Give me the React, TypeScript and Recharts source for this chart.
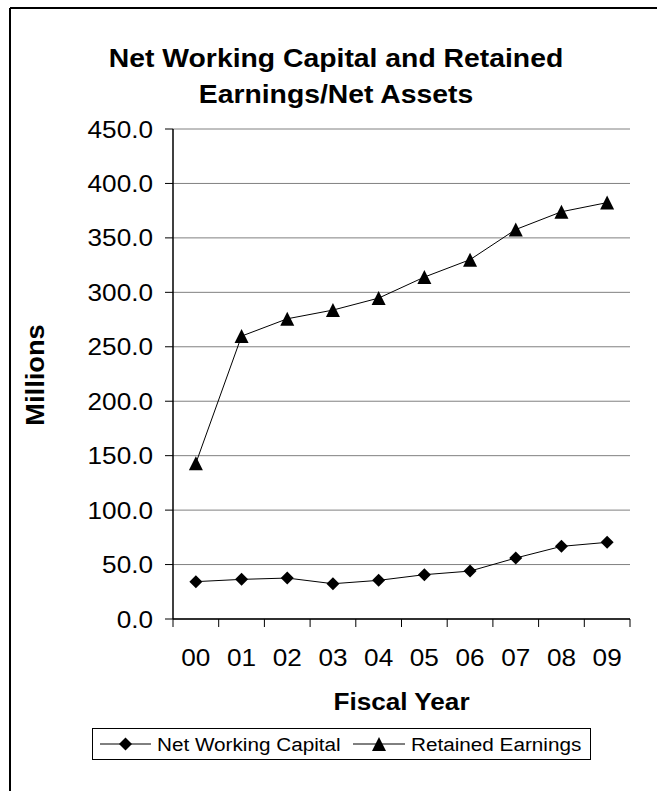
import * as React from 'react';
import { LineChart, Line, XAxis, YAxis, CartesianGrid } from 'recharts';

// fiscal years shown on the x axis
const categories = ['00', '01', '02', '03', '04', '05', '06', '07', '08', '09'];

// values in millions
const netWorkingCapital = [34.3, 36.4, 37.6, 32.4, 35.5, 40.7, 44.0, 56.0, 66.7, 70.4];
const retainedEarnings = [143.0, 259.8, 275.7, 283.7, 294.7, 314.0, 330.0, 357.7, 374.0, 382.4];

const yTicks = [0, 50, 100, 150, 200, 250, 300, 350, 400, 450];

const W = 657;
const H = 791;
const MARGIN = { top: 129, right: 27, bottom: 0, left: 0 };
const Y_AXIS_W = 173;
const X_AXIS_H = 172;
const PLOT_W = W - MARGIN.right - MARGIN.left - Y_AXIS_W;
const BAND = PLOT_W / categories.length;

const FONT = '"Liberation Sans", Arial, sans-serif';
// the original text is a bit wider than Arial, stretch it horizontally
const STRETCH = 1.09;

const data = categories.map((c, i) => ({
  idx: i,
  year: c,
  nwc: netWorkingCapital[i],
  re: retainedEarnings[i],
}));

function Diamond({ cx, cy }: any) {
  if (cx == null || cy == null) return null;
  const r = 6.5;
  return <path d={`M${cx},${cy - r}L${cx + r},${cy}L${cx},${cy + r}L${cx - r},${cy}Z`} fill="#000" />;
}

function Triangle({ cx, cy }: any) {
  if (cx == null || cy == null) return null;
  const r = 7;
  return <path d={`M${cx},${cy - r}L${cx + r},${cy + r}L${cx - r},${cy + r}Z`} fill="#000" />;
}

function Label({ x, y, size, bold, anchor = 'middle', rotate = 0, children }: any) {
  return (
    <g transform={`translate(${x},${y}) rotate(${rotate}) scale(${STRETCH},1)`}>
      <text
        textAnchor={anchor}
        fontSize={size}
        fontWeight={bold ? 'bold' : 'normal'}
        fontFamily={FONT}
        fill="#000"
      >
        {children}
      </text>
    </g>
  );
}

function YTick({ x, y, payload }: any) {
  return (
    <Label x={x} y={y + 8.5} size={24} anchor="end">
      {Number(payload.value).toFixed(1)}
    </Label>
  );
}

// labels sit in the middle of each category, tick marks on the boundaries
function XTick({ x, y, payload, index }: any) {
  const half = BAND / 2;
  return (
    <g>
      <line x1={x - half} x2={x - half} y1={y} y2={y + 8} stroke="#000" />
      {index === categories.length - 1 && (
        <line x1={x + half} x2={x + half} y1={y} y2={y + 8} stroke="#000" />
      )}
      <Label x={x} y={y + 47} size={24}>
        {categories[payload.value]}
      </Label>
    </g>
  );
}

export default function App() {
  const plotCx = MARGIN.left + Y_AXIS_W + PLOT_W / 2;
  return (
    <div
      style={{
        position: 'fixed',
        left: 0,
        top: 0,
        width: W,
        height: H,
        overflow: 'hidden',
        background: '#fff',
        fontFamily: FONT,
      }}
    >
      <div style={{ position: 'absolute', left: 0, top: 0 }}>
        <LineChart width={W} height={H} data={data} margin={MARGIN}>
          <CartesianGrid vertical={false} stroke="#808080" />
          <XAxis
            type="number"
            dataKey="idx"
            domain={[-0.5, categories.length - 0.5]}
            ticks={categories.map((_, i) => i)}
            interval={0}
            height={X_AXIS_H}
            tickLine={false}
            tickSize={0}
            tickMargin={0}
            axisLine={{ stroke: '#000', strokeWidth: 1.5 }}
            tick={<XTick />}
          />
          <YAxis
            domain={[0, 450]}
            ticks={yTicks}
            interval={0}
            width={Y_AXIS_W}
            tickSize={8}
            tickMargin={12}
            tickLine={{ stroke: '#000' }}
            axisLine={{ stroke: '#000', strokeWidth: 1.5 }}
            tick={<YTick />}
          />
          <YAxis
            yAxisId="right"
            orientation="right"
            domain={[0, 450]}
            width={0}
            tick={false}
            tickLine={false}
            axisLine={{ stroke: '#000', strokeWidth: 1.5 }}
          />
          <Line
            dataKey="nwc"
            name="Net Working Capital"
            stroke="#000"
            strokeWidth={1}
            dot={<Diamond />}
            activeDot={false}
            isAnimationActive={false}
          />
          <Line
            dataKey="re"
            name="Retained Earnings"
            stroke="#000"
            strokeWidth={1}
            dot={<Triangle />}
            activeDot={false}
            isAnimationActive={false}
          />
        </LineChart>
      </div>
      <svg
        width={W}
        height={H}
        style={{ position: 'absolute', left: 0, top: 0, pointerEvents: 'none' }}
      >
        <line x1={10} y1={8} x2={W} y2={8} stroke="#000" strokeWidth={2} />
        <line x1={10} y1={8} x2={10} y2={H} stroke="#000" strokeWidth={2} />
        <Label x={336} y={67} size={26} bold>
          Net Working Capital and Retained
        </Label>
        <Label x={336} y={103} size={26} bold>
          Earnings/Net Assets
        </Label>
        <Label x={plotCx} y={710} size={24} bold>
          Fiscal Year
        </Label>
        <Label x={44} y={375} size={25} bold rotate={-90}>
          Millions
        </Label>
        <rect x={92.5} y={728.5} width={498} height={31} fill="#fff" stroke="#000" />
        <line x1={100} x2={151} y1={744} y2={744} stroke="#000" />
        <Diamond cx={125.5} cy={744} />
        <Label x={157} y={751} size={19} anchor="start">
          Net Working Capital
        </Label>
        <line x1={353} x2={405} y1={744} y2={744} stroke="#000" />
        <Triangle cx={379} cy={744} />
        <Label x={411} y={751} size={19} anchor="start">
          Retained Earnings
        </Label>
      </svg>
    </div>
  );
}
